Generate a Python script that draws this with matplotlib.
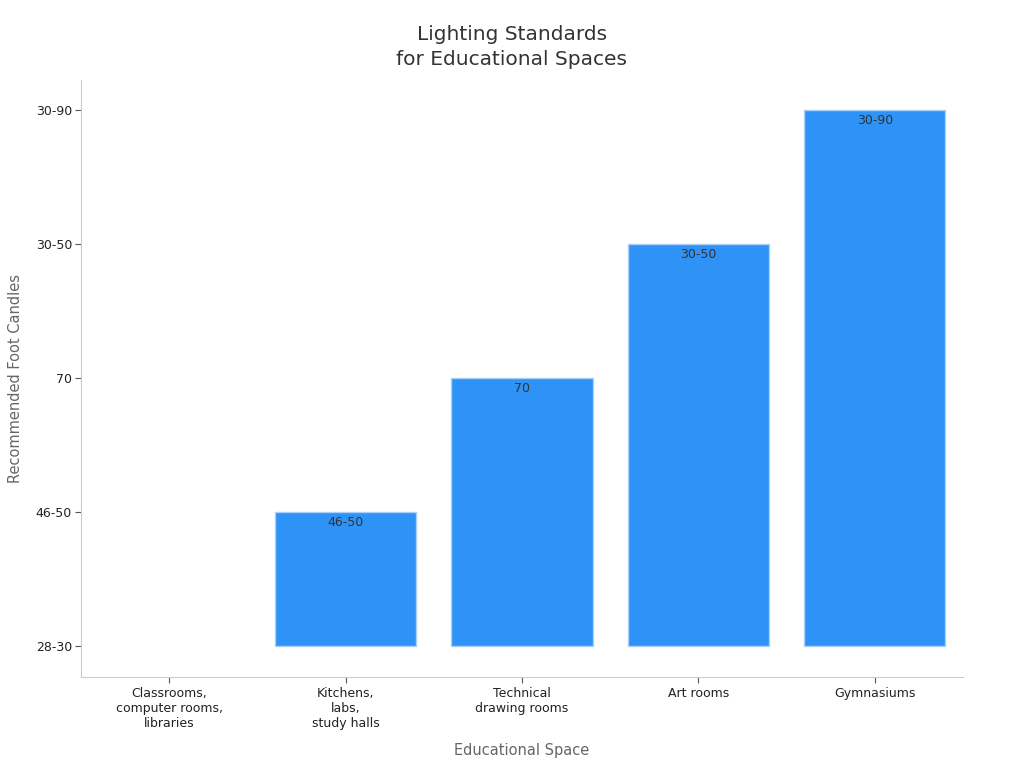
import matplotlib
matplotlib.use("Agg")
import matplotlib.pyplot as plt

categories = ["Classrooms,\ncomputer rooms,\nlibraries", "Kitchens,\nlabs,\nstudy halls",
              "Technical\ndrawing rooms", "Art rooms", "Gymnasiums"]
values = ["28-30", "46-50", "70", "30-50", "30-90"]
y_levels = ["28-30", "46-50", "70", "30-50", "30-90"]

plt.rcParams['font.family'] = ['DejaVu Sans']
fig = plt.figure(figsize=(10.24, 7.68), dpi=100)
ax = fig.add_axes([0.0791, 0.1185, 0.8613, 0.7773])

x = list(range(len(categories)))
heights = [y_levels.index(v) for v in values]
bars = ax.bar(x, heights, width=0.8, bottom=0, color="#2f92f7", edgecolor="#a8d0fb", linewidth=1.0)
for b, h in zip(bars, heights):
    if h == 0:
        b.set_linewidth(0)

for xi, h, v in zip(x, heights, values):
    if h > 0:
        ax.annotate(v, (xi, h), xytext=(0, -3), textcoords="offset points",
                    ha="center", va="top", fontsize=9, color="#333333")

ax.set_xlim(-0.5, 4.5)
ax.set_ylim(-0.231, 4.224)
ax.set_xticks(x)
ax.set_xticklabels(categories, fontsize=9, color="#222222")
ax.set_yticks(range(len(y_levels)))
ax.set_yticklabels(y_levels, fontsize=9, color="#222222")
ax.tick_params(axis="both", colors="#555555", labelcolor="#222222", length=4)
ax.tick_params(axis="y", pad=2.5)

for s in ["top", "right"]:
    ax.spines[s].set_visible(False)
for s in ["left", "bottom"]:
    ax.spines[s].set_color("#cccccc")

ax.set_xlabel("Educational Space", fontsize=10.5, color="#666666", labelpad=9)
ax.set_ylabel("Recommended Foot Candles", fontsize=10.5, color="#666666", labelpad=9)
fig.suptitle("Lighting Standards\nfor Educational Spaces", fontsize=14.5, color="#333333",
             y=0.968, linespacing=1.45)

fig.savefig("out.png", dpi=100)
